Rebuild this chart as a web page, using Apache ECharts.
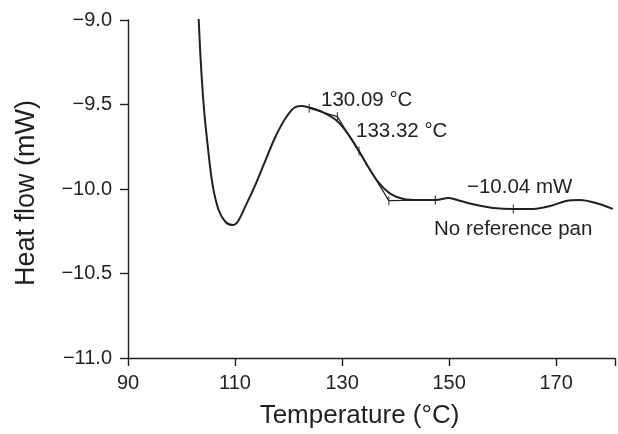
<!DOCTYPE html>
<html>
<head>
<meta charset="utf-8">
<script src="https://cdn.jsdelivr.net/npm/echarts@6/dist/echarts.min.js"></script>
<style>html,body{margin:0;padding:0;background:#fff}#c{width:618px;height:434px}</style>
</head>
<body>
<div id="c"></div>
<script>
// Main DSC curve
var tempC = [103.0,103.21,103.58,104.14,104.88,105.81,106.93,108.23,109.53,110.47,111.95,113.63,115.49,117.53,119.58,121.26,122.56,124.23,126.65,129.07,131.12,133.16,135.02,136.88,139.12,141.53,144.33,147.49,149.91,152.14,155.12,158.28,162.0,165.72,168.88,171.86,174.47,177.44,180.6];
var heatFlow = [-8.9,-9.0,-9.237,-9.503,-9.740,-9.976,-10.124,-10.195,-10.213,-10.195,-10.101,-9.988,-9.846,-9.692,-9.574,-9.515,-9.509,-9.521,-9.550,-9.598,-9.675,-9.775,-9.876,-9.964,-10.030,-10.059,-10.065,-10.065,-10.053,-10.071,-10.095,-10.112,-10.118,-10.118,-10.101,-10.071,-10.065,-10.083,-10.118];
// Tangent construction
var tangentT = [123.86,129.13,138.74,147.43];
var tangentV = [-9.522,-9.572,-10.069,-10.065];
// Small tick marks on the construction
var markT = [123.86,129.13,133.16,138.74,147.43,162.0];
var markV = [-9.522,-9.572,-9.775,-10.069,-10.065,-10.118];
// Axis ticks
var xMin = 90, xMax = 181, xStep = 20;
var yMin = -11.0, yMax = -9.0, yStep = 0.5;
var annotations = ['130.09 °C','133.32 °C','−10.04 mW','No reference pan'];

var ink = '#231f20';
var font = 'Liberation Sans, Arial, sans-serif';
function zip(a,b){return a.map(function(v,i){return [v,b[i]];});}
function minus(v,d){return (v<0?'−':'')+Math.abs(v).toFixed(d);}

var chart = echarts.init(document.getElementById('c'));
chart.setOption({
  animation:false,
  backgroundColor:'#fff',
  grid:{left:128,right:1,top:20,bottom:76},
  xAxis:{type:'value',min:xMin,max:xMax,interval:xStep,
    name:'Temperature (°C)',nameLocation:'middle',nameGap:45,
    nameTextStyle:{fontFamily:font,fontSize:26,color:ink,padding:[0,24,0,0]},
    axisLine:{lineStyle:{color:ink,width:1.4}},
    axisTick:{show:true,length:8,lineStyle:{color:ink,width:1.4}},
    axisLabel:{fontFamily:font,fontSize:20,color:ink,margin:15,
      formatter:function(v){return v>180?'':String(v);}},
    splitLine:{show:false}},
  yAxis:{type:'value',min:yMin,max:yMax,interval:yStep,
    name:'Heat flow (mW)',nameLocation:'middle',nameGap:88,nameRotate:90,
    nameTextStyle:{fontFamily:font,fontSize:27,color:ink,padding:[0,8,0,0]},
    axisLine:{show:true,lineStyle:{color:ink,width:1.4}},
    axisTick:{show:true,length:8,lineStyle:{color:ink,width:1.4}},
    axisLabel:{fontFamily:font,fontSize:20,color:ink,margin:16,
      formatter:function(v){return minus(v,1);}},
    splitLine:{show:false}},
  series:[
    {type:'line',data:zip(tempC,heatFlow),smooth:0.35,symbol:'none',clip:true,
      lineStyle:{color:ink,width:2}},
    {type:'line',data:zip(tangentT,tangentV),smooth:false,symbol:'none',
      lineStyle:{color:ink,width:1.2}},
    {type:'scatter',data:zip(markT,markV),symbol:'rect',symbolSize:[1.2,9],
      itemStyle:{color:ink}}
  ],
  graphic:[
    {type:'text',x:321,y:100,style:{text:annotations[0],font:'20.5px '+font,fill:ink,verticalAlign:'middle'}},
    {type:'text',x:356,y:131,style:{text:annotations[1],font:'20.5px '+font,fill:ink,verticalAlign:'middle'}},
    {type:'text',x:467,y:187,style:{text:annotations[2],font:'20.5px '+font,fill:ink,verticalAlign:'middle'}},
    {type:'text',x:434,y:229,style:{text:annotations[3],font:'20.5px '+font,fill:ink,verticalAlign:'middle'}}
  ]
});
</script>
</body>
</html>
